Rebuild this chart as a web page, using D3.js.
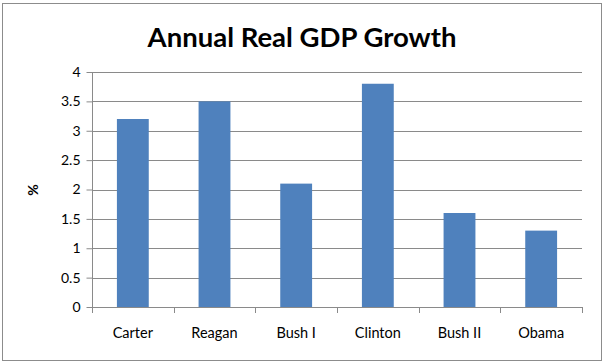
<!DOCTYPE html>
<html>
<head>
<meta charset="utf-8">
<script src="https://cdn.jsdelivr.net/npm/d3@7"></script>
<style>
  body { margin: 0; background: #fff; }
  text { font-family: Lato, "Open Sans", sans-serif; }
</style>
</head>
<body>
<div class="visHolder"></div>
<script>
const presidents = ["Carter", "Reagan", "Bush I", "Clinton", "Bush II", "Obama"];
const growth = [3.2, 3.5, 2.1, 3.8, 1.6, 1.3];
const yTicks = [0, 0.5, 1, 1.5, 2, 2.5, 3, 3.5, 4];

const w = 604;
const h = 364;
const plotLeft = 92, plotRight = 582, plotTop = 72, plotBottom = 307;

const svg = d3.select(".visHolder")
    .append("svg")
    .attr("width", w)
    .attr("height", h);

// outer chart border
svg.append("rect")
    .attr("x", 2.5)
    .attr("y", 3.5)
    .attr("width", w - 5)
    .attr("height", h - 7)
    .attr("fill", "white")
    .attr("stroke", "#8c8c8c")
    .attr("stroke-width", 1);

svg.append("text")
    .attr("id", "title")
    .attr("x", 302)
    .attr("y", 47)
    .attr("text-anchor", "middle")
    .style("font-size", "27.5px")
    .style("font-weight", "bold")
    .style("fill", "#000")
    .text("Annual Real GDP Growth");

const xScale = d3.scaleBand()
    .domain(presidents)
    .range([plotLeft, plotRight])
    .paddingInner(0.61)
    .paddingOuter(0.305);

const yScale = d3.scaleLinear()
    .domain([0, 4])
    .range([plotBottom, plotTop]);

// gridlines
svg.append("g")
    .selectAll("line")
    .data(yTicks.filter(d => d > 0))
    .enter()
    .append("line")
    .attr("x1", plotLeft)
    .attr("x2", plotRight)
    .attr("y1", d => Math.round(yScale(d)) + 0.5)
    .attr("y2", d => Math.round(yScale(d)) + 0.5)
    .attr("stroke", "#8a8a8a")
    .attr("stroke-width", 1);

svg.selectAll(".bar")
    .data(growth)
    .enter()
    .append("rect")
    .attr("class", "bar")
    .attr("x", (d, i) => xScale(presidents[i]))
    .attr("y", d => yScale(d))
    .attr("width", xScale.bandwidth())
    .attr("height", d => plotBottom - yScale(d))
    .attr("fill", "#4f81bd");

const yAxis = d3.axisLeft(yScale)
    .tickValues(yTicks)
    .tickSize(6)
    .tickPadding(6)
    .tickFormat(d3.format("~g"));

const yg = svg.append("g")
    .attr("id", "y-axis")
    .attr("transform", `translate(${plotLeft + 0.5}, 0)`)
    .call(yAxis);
yg.select(".domain").attr("stroke", "#8a8a8a").attr("d", `M0,${plotTop}V${plotBottom}`);
yg.selectAll(".tick line").attr("stroke", "#8a8a8a");
yg.selectAll(".tick text").style("font-size", "14px").style("fill", "#000");

// category axis with boundary ticks
const xEdges = d3.range(presidents.length + 1).map(i => plotLeft + i * xScale.step());
const xg = svg.append("g").attr("id", "x-axis");
xg.append("line")
    .attr("x1", plotLeft)
    .attr("x2", plotRight)
    .attr("y1", plotBottom + 0.5)
    .attr("y2", plotBottom + 0.5)
    .attr("stroke", "#8a8a8a");
xg.selectAll(".edge")
    .data(xEdges)
    .enter()
    .append("line")
    .attr("class", "edge")
    .attr("x1", d => Math.round(d) + 0.5)
    .attr("x2", d => Math.round(d) + 0.5)
    .attr("y1", plotBottom)
    .attr("y2", plotBottom + 6)
    .attr("stroke", "#8a8a8a");
xg.selectAll(".lbl")
    .data(presidents)
    .enter()
    .append("text")
    .attr("class", "lbl")
    .attr("x", d => xScale(d) + xScale.bandwidth() / 2)
    .attr("y", 338)
    .attr("text-anchor", "middle")
    .style("font-size", "14.5px")
    .style("fill", "#000")
    .text(d => d);

svg.append("text")
    .attr("transform", "translate(38, 190) rotate(-90)")
    .attr("text-anchor", "middle")
    .style("font-size", "14px")
    .style("font-weight", "bold")
    .style("fill", "#000")
    .text("%");
</script>
</body>
</html>
